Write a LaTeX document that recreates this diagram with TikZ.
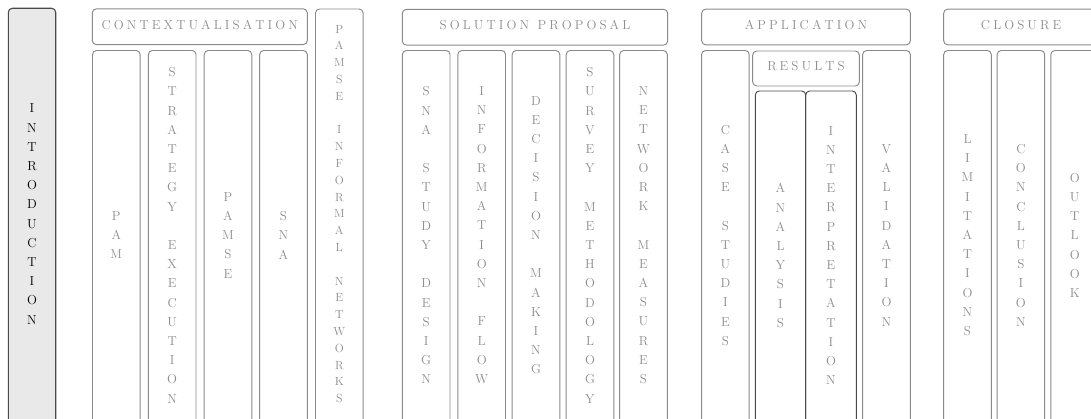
\documentclass[tikz,border=0pt]{standalone}
\usepackage{xcolor}
\definecolor{bordergray}{HTML}{8A8A8A}
\definecolor{textgray}{HTML}{8C8C8C}
\definecolor{introfill}{HTML}{E9E9E9}
\definecolor{darkborder}{HTML}{4A4A4A}
\def\lspEnd{}
\newcommand\lsp[1]{\lspA#1\lspEnd\unskip}
\def\lspA#1{\ifx#1\lspEnd\else#1\hspace{3.1pt}\expandafter\lspA\fi}
\tikzset{
  box/.style={draw=bordergray, line width=0.95pt, rounded corners=4pt, inner sep=0pt},
  txt/.style={inner sep=0pt, text=textgray, font=\fontsize{13}{19.2}\selectfont, align=center},
  smalltxt/.style={txt, font=\fontsize{11.8}{16.8}\selectfont},
  header/.style={box, txt, minimum height=35.7pt, text height=9pt, text depth=4pt},
  col/.style={box, minimum width=47.6pt},
  fullcol/.style={col, minimum height=431pt},
  subcol/.style={col, minimum height=389.5pt},
  rescol/.style={box, draw=darkborder, minimum height=349pt},
  intro/.style={box, draw=darkborder, fill=introfill, line width=1.1pt,
    minimum width=47.4pt, minimum height=431.7pt}
}
\begin{document}
\begin{tikzpicture}[x=1pt,y=-1pt]
\useasboundingbox (0,0) rectangle (1091,419);
\clip (0,0) rectangle (1091,419);
% Introduction
\node[intro] (intro) at (32,224.15) {};
\node[txt, text=black] (introt) at (32,214.15) {I\\N\\T\\R\\O\\D\\U\\C\\T\\I\\O\\N};
% Contextualisation
\node[header, minimum width=215pt] (ctx) at (199.8,26.7) {\lsp{CONTEXTUALISATION}};
\node[subcol] (pam) at (116.3,245.25) {};
\node[txt] (pamt) at (116.3,235.25) {P\\A\\M};
\node[subcol] (strat) at (172.2,245.25) {};
\node[txt] (stratt) at (172.2,235.25) {S\\T\\R\\A\\T\\E\\G\\Y\\[19.2pt]E\\X\\E\\C\\U\\T\\I\\O\\N};
\node[subcol] (pamse) at (228,245.25) {};
\node[txt] (pamset) at (228,235.25) {P\\A\\M\\S\\E};
\node[subcol] (sna) at (283.5,245.25) {};
\node[txt] (snat) at (283.5,235.25) {S\\N\\A};
\node[fullcol] (pamseinf) at (339.3,224.5) {};
\node[smalltxt] (pamseinft) at (339.3,214) {P\\A\\M\\S\\E\\[16.8pt]I\\N\\F\\O\\R\\M\\A\\L\\[16.8pt]N\\E\\T\\W\\O\\R\\K\\S};
% Solution proposal
\node[header, minimum width=265.4pt] (sol) at (535,27.2) {\lsp{SOLUTION}\hspace{8.5pt}\lsp{PROPOSAL}};
\node[subcol] (snasd) at (426.2,245.25) {};
\node[txt] (snasdt) at (426.2,235.25) {S\\N\\A\\[19.2pt]S\\T\\U\\D\\Y\\[19.2pt]D\\E\\S\\I\\G\\N};
\node[subcol] (info) at (481.7,245.25) {};
\node[txt] (infot) at (481.7,235.25) {I\\N\\F\\O\\R\\M\\A\\T\\I\\O\\N\\[19.2pt]F\\L\\O\\W};
\node[subcol] (dec) at (536,245.25) {};
\node[txt] (dect) at (536,235.25) {D\\E\\C\\I\\S\\I\\O\\N\\[19.2pt]M\\A\\K\\I\\N\\G};
\node[subcol] (surv) at (590,245.25) {};
\node[txt] (survt) at (590,235.25) {S\\U\\R\\V\\E\\Y\\[19.2pt]M\\E\\T\\H\\O\\D\\O\\L\\O\\G\\Y};
\node[subcol] (netm) at (643.5,245.25) {};
\node[txt] (netmt) at (643.5,235.25) {N\\E\\T\\W\\O\\R\\K\\[19.2pt]M\\E\\A\\S\\U\\R\\E\\S};
% Application
\node[header, minimum width=208.6pt] (app) at (806,27) {\lsp{APPLICATION}};
\node[subcol] (case) at (725.4,245.25) {};
\node[txt] (caset) at (725.4,235.25) {C\\A\\S\\E\\[19.2pt]S\\T\\U\\D\\I\\E\\S};
\node[header, minimum width=106.6pt, minimum height=35pt] (res) at (806,68.5) {\lsp{RESULTS}};
\node[rescol, minimum width=50.4pt] (ana) at (780.5,265.5) {};
\node[txt] (anat) at (780.5,255.5) {A\\N\\A\\L\\Y\\S\\I\\S};
\node[rescol, minimum width=50.6pt] (interp) at (831,265.5) {};
\node[txt] (interpt) at (831,255.5) {I\\N\\T\\E\\R\\P\\R\\E\\T\\A\\T\\I\\O\\N};
\node[subcol] (valid) at (886.5,245.25) {};
\node[txt] (validt) at (886.5,235.25) {V\\A\\L\\I\\D\\A\\T\\I\\O\\N};
% Closure
\node[header, minimum width=154.8pt] (clo) at (1021.1,27) {\lsp{CLOSURE}};
\node[subcol] (lim) at (967.5,245.25) {};
\node[txt] (limt) at (967.5,235.25) {L\\I\\M\\I\\T\\A\\T\\I\\O\\N\\S};
\node[subcol] (conc) at (1020.9,245.25) {};
\node[txt] (conct) at (1020.9,235.25) {C\\O\\N\\C\\L\\U\\S\\I\\O\\N};
\node[subcol] (out) at (1074.7,245.25) {};
\node[txt] (outt) at (1074.7,235.25) {O\\U\\T\\L\\O\\O\\K};
\end{tikzpicture}
\end{document}
